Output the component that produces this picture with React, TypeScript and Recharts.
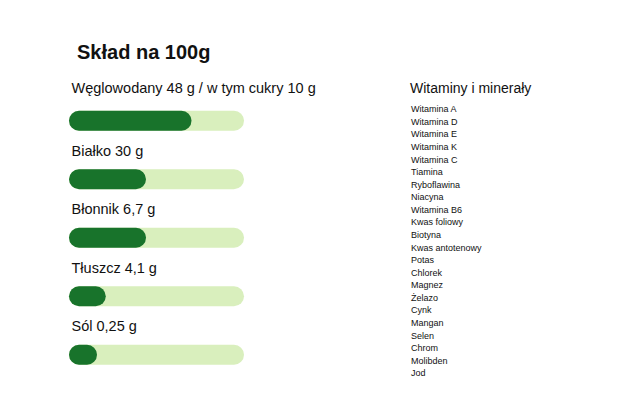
import React from 'react';
import { BarChart, Bar, XAxis, YAxis, LabelList } from 'recharts';

const nutrients = ['Węglowodany 48 g / w tym cukry 10 g', 'Białko 30 g', 'Błonnik 6,7 g', 'Tłuszcz 4,1 g', 'Sól 0,25 g'];
const percents = [70, 44, 44, 21, 16];
const vitamins = [
  'Witamina A', 'Witamina D', 'Witamina E', 'Witamina K', 'Witamina C', 'Tiamina', 'Ryboflawina',
  'Niacyna', 'Witamina B6', 'Kwas foliowy', 'Biotyna', 'Kwas antotenowy', 'Potas', 'Chlorek',
  'Magnez', 'Żelazo', 'Cynk', 'Mangan', 'Selen', 'Chrom', 'Molibden', 'Jod',
];

const data = nutrients.map((name, i) => ({ name, value: percents[i] }));

const font = '"Liberation Sans", Arial, sans-serif';

function NutrientLabel(props: any) {
  const { y, index, value } = props;
  return (
    <text x={71.5} y={y - (index === 0 ? 18 : 13.5)} fontSize={14.5} fill="#111" fontFamily={font}>
      {value}
    </text>
  );
}

export default function App() {
  return (
    <div style={{ position: 'absolute', left: 0, top: 0, width: 620, height: 413, background: '#fff', fontFamily: font }}>
      <BarChart
        width={620}
        height={413}
        data={data}
        layout="vertical"
        barSize={20}
        margin={{ top: 91.75, bottom: 28.75, left: 69, right: 376 }}
      >
        <XAxis type="number" domain={[0, 100]} hide />
        <YAxis type="category" dataKey="name" hide />
        <Bar
          dataKey="value"
          fill="#18732b"
          radius={10}
          background={{ fill: '#d9efbd', radius: 10 } as any}
          isAnimationActive={false}
        >
          <LabelList dataKey="name" content={NutrientLabel} />
        </Bar>
      </BarChart>
      <svg width={620} height={413} style={{ position: 'absolute', left: 0, top: 0, pointerEvents: 'none' }}>
        <text x={77} y={59} fontSize={20} fontWeight="bold" fill="#111" fontFamily={font}>
          Skład na 100g
        </text>
        <text x={410} y={93} fontSize={14} fill="#111" fontFamily={font}>
          Witaminy i minerały
        </text>
        {vitamins.map((v, i) => (
          <text key={v} x={411} y={112.3 + i * 12.57} fontSize={9} fill="#111" fontFamily={font}>
            {v}
          </text>
        ))}
      </svg>
    </div>
  );
}
